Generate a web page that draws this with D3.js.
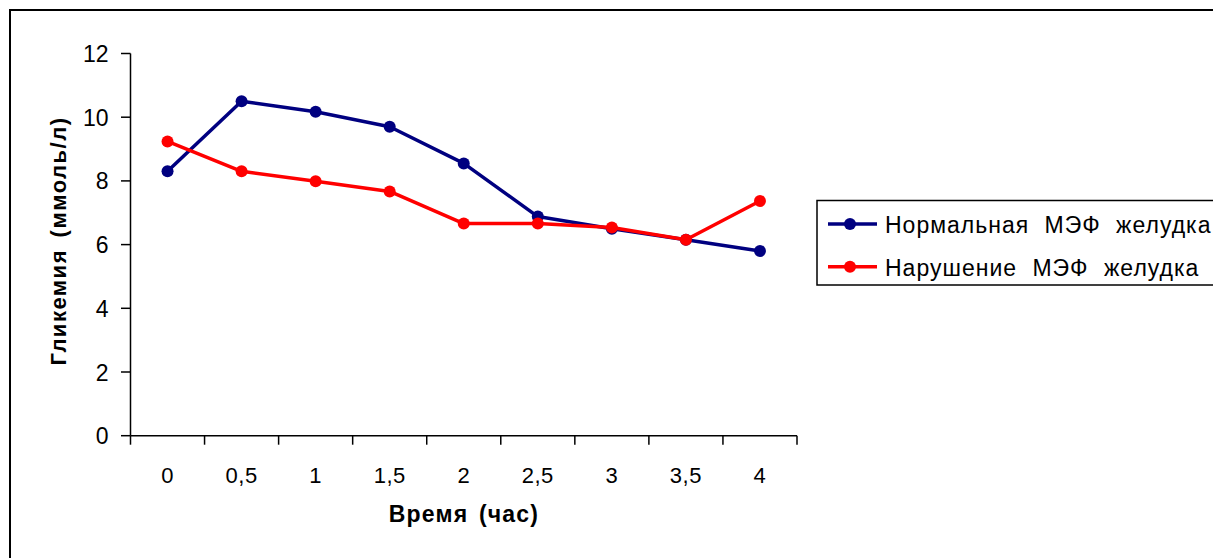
<!DOCTYPE html>
<html><head><meta charset="utf-8">
<script src="https://cdn.jsdelivr.net/npm/d3@7"></script>
<style>body{margin:0;background:#fff;overflow:hidden}svg{display:block}text{font-family:"Liberation Sans",Arial,sans-serif}</style>
</head><body>
<script>
const categories = ["0","0,5","1","1,5","2","2,5","3","3,5","4"];
const normalValues = [8.3,10.5,10.17,9.7,8.55,6.88,6.5,6.15,5.8];
const impairedValues = [9.24,8.3,7.99,7.67,6.66,6.66,6.54,6.15,7.37];
const yTicks = [0,2,4,6,8,10,12];
const seriesNames = ["Нормальная МЭФ желудка","Нарушение МЭФ желудка"];
const seriesColors = ["#000080","#FF0000"];
const xTitle = "Время (час)";
const yTitle = "Гликемия (ммоль/л)";

const W=1213,H=558;
const svg=d3.select("body").append("svg").attr("width",W).attr("height",H);
svg.append("rect").attr("x",10).attr("y",10).attr("width",W+20).attr("height",H+20).attr("fill","#fff").attr("stroke","#000").attr("stroke-width",2);

const x=d3.scaleBand().domain(categories).range([130.5,797]);
const y=d3.scaleLinear().domain([0,12]).range([435.7,53.5]);

const gx=svg.append("g").attr("transform","translate(0,435.7)");
gx.append("line").attr("x1",130.5).attr("x2",797).attr("stroke","#000").attr("stroke-width",1.5);
const bounds=categories.map(c=>x(c)).concat([x.range()[1]]);
gx.selectAll("line.t").data(bounds).join("line").attr("class","t")
 .attr("x1",d=>d).attr("x2",d=>d).attr("y1",0).attr("y2",9).attr("stroke","#000").attr("stroke-width",1.5);
gx.selectAll("text").data(categories).join("text")
 .attr("x",d=>x(d)+x.bandwidth()/2).attr("y",47).attr("text-anchor","middle")
 .attr("font-size",22).attr("letter-spacing",0.5).text(d=>d);

const gy=svg.append("g");
gy.append("line").attr("x1",130.5).attr("x2",130.5).attr("y1",y(12)).attr("y2",y(0)).attr("stroke","#000").attr("stroke-width",1.5);
gy.selectAll("line.t").data(yTicks).join("line").attr("class","t")
 .attr("x1",121).attr("x2",130.5).attr("y1",d=>y(d)).attr("y2",d=>y(d)).attr("stroke","#000").attr("stroke-width",1.5);
gy.selectAll("text").data(yTicks).join("text")
 .attr("x",108.5).attr("y",d=>y(d)+8.5).attr("text-anchor","end").attr("font-size",23).text(d=>d);

svg.append("text").attr("x",464).attr("y",521.7).attr("text-anchor","middle").attr("font-size",23).attr("font-weight","bold")
 .attr("letter-spacing",1.2).attr("word-spacing",3).text(xTitle);
svg.append("text").attr("transform","translate(65.5,241) rotate(-90)").attr("text-anchor","middle").attr("font-size",22).attr("font-weight","bold")
 .attr("letter-spacing",1.5).attr("word-spacing",4).text(yTitle);

const line=d3.line().x((d,i)=>x(categories[i])+x.bandwidth()/2).y(d=>y(d));
[normalValues,impairedValues].forEach((vals,k)=>{
  svg.append("path").datum(vals).attr("d",line).attr("fill","none").attr("stroke",seriesColors[k]).attr("stroke-width",3.5).attr("stroke-linejoin","round");
  svg.selectAll(null).data(vals).join("circle").attr("cx",(d,i)=>x(categories[i])+x.bandwidth()/2).attr("cy",d=>y(d)).attr("r",6).attr("fill",seriesColors[k]);
});

const lg=svg.append("g");
lg.append("rect").attr("x",817).attr("y",200.5).attr("width",420).attr("height",84.5).attr("fill","#fff").attr("stroke","#000").attr("stroke-width",1.5);
seriesNames.forEach((n,k)=>{
  const yy=224+k*42.7;
  lg.append("line").attr("x1",828).attr("x2",877).attr("y1",yy).attr("y2",yy).attr("stroke",seriesColors[k]).attr("stroke-width",3.5);
  lg.append("circle").attr("cx",850).attr("cy",yy).attr("r",6).attr("fill",seriesColors[k]);
  lg.append("text").attr("x",885).attr("y",yy+9).attr("font-size",23).attr("letter-spacing",1).attr("word-spacing",8).text(n);
});
</script>
</body></html>
